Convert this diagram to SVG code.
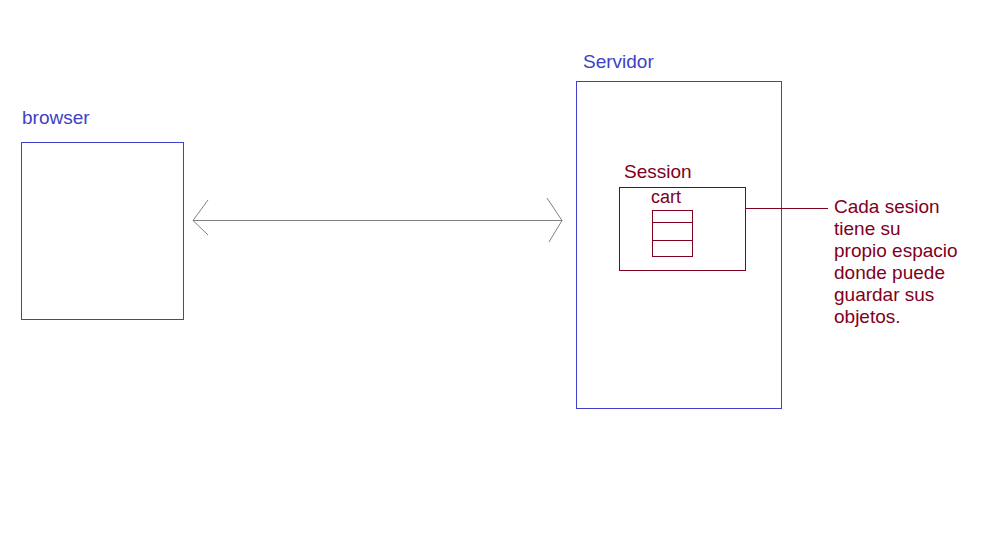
<svg xmlns="http://www.w3.org/2000/svg" width="997" height="537" viewBox="0 0 997 537">
<style>
.blue{fill:none;stroke:#4040c8;stroke-width:1}
.red{fill:none;stroke:#800020;stroke-width:1}
.tb{font-family:"Liberation Sans",Arial,sans-serif;font-size:19px;fill:#4040c8}
.tr{font-family:"Liberation Sans",Arial,sans-serif;font-size:19px;fill:#800020}
.conn{fill:none;stroke:#808080;stroke-width:1}
</style>
<rect width="997" height="537" fill="#ffffff"/>
<g id="browser">
<text class="tb" x="22" y="124">browser</text>
<rect class="blue" x="21.5" y="142.5" width="162" height="177"/>
</g>
<g id="servidor">
<text class="tb" x="583" y="68">Servidor</text>
<rect class="blue" x="576.5" y="81.5" width="205" height="327"/>
</g>
<g id="session">
<text class="tr" x="624" y="178">Session</text>
<rect class="red" x="619.5" y="187.5" width="126" height="83"/>
<text class="tr" x="651" y="203" style="font-size:18px">cart</text>
<rect class="red" x="652.5" y="210.5" width="40" height="46"/>
<line class="red" x1="652.5" y1="222.5" x2="692.5" y2="222.5"/>
<line class="red" x1="652.5" y1="240.5" x2="692.5" y2="240.5"/>
</g>
<g id="note">
<text class="tr" x="834" y="213">Cada sesion</text>
<text class="tr" x="834" y="235">tiene su</text>
<text class="tr" x="834" y="257">propio espacio</text>
<text class="tr" x="834" y="279">donde puede</text>
<text class="tr" x="834" y="301">guardar sus</text>
<text class="tr" x="834" y="323">objetos.</text>
</g>
<g id="connectors">
<line class="conn" x1="193" y1="220.5" x2="562" y2="220.5"/>
<polyline class="conn" points="208,200 193,220.5 208,235"/>
<polyline class="conn" points="547,198 562,220.5 549,242"/>
<line class="red" x1="745.5" y1="208.5" x2="828" y2="208.5"/>
</g>
</svg>
